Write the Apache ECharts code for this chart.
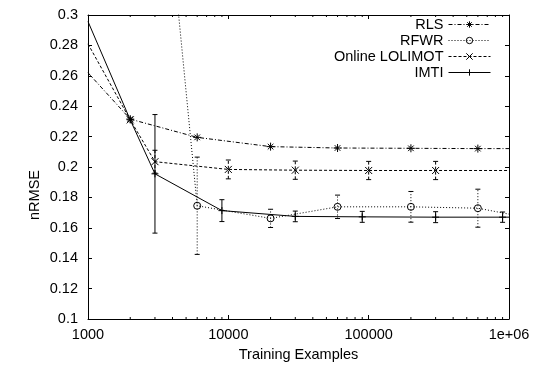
<!DOCTYPE html>
<html><head><meta charset="utf-8">
<script src="https://cdn.jsdelivr.net/npm/echarts@6/dist/echarts.min.js"></script>
<style>html,body{margin:0;padding:0;background:#fff}#c{width:536px;height:367px}</style>
</head><body><div id="c"></div>
<script>
// ---- data ----
const xTickValues = [1000, 10000, 100000, 1000000];
const xTickLabels = ['1000', '10000', '100000', '1e+06'];
const xMinorTicks = [2000, 3000, 4000, 5000, 6000, 7000, 8000, 9000,
                     20000, 30000, 40000, 50000, 60000, 70000, 80000, 90000,
                     200000, 300000, 400000, 500000, 600000, 700000, 800000, 900000];
const yMin = 0.1, yMax = 0.3, yStep = 0.02;

const seriesNames = ['RLS', 'RFWR', 'Online LOLIMOT', 'IMTI'];

const rlsX = [1000, 2000, 6000, 20000, 60000, 200000, 600000, 1000000];
const rlsY = [0.262, 0.2315, 0.2195, 0.2134, 0.2125, 0.2123, 0.2121, 0.2121];

const rfwrX = [3000, 6000, 20000, 60000, 200000, 600000, 1000000];
const rfwrY = [0.46, 0.1745, 0.1662, 0.1738, 0.1738, 0.1729, 0.169];
const rfwrErr = [0, 0.032, 0.006, 0.0077, 0.0101, 0.0125, 0];

const lolX = [1000, 2000, 3000, 10000, 30000, 100000, 300000, 1000000];
const lolY = [0.281, 0.231, 0.2035, 0.1984, 0.1979, 0.1977, 0.1977, 0.1977];
const lolErr = [0, 0, 0.0075, 0.0062, 0.006, 0.006, 0.006, 0];

const imtiX = [1000, 2000, 3000, 9000, 30000, 90000, 300000, 900000, 1000000];
const imtiY = [0.2957, 0.231, 0.1955, 0.1713, 0.1675, 0.1672, 0.167, 0.167, 0.167];
const imtiErr = [0, 0, 0.039, 0.0072, 0.0035, 0.0036, 0.0036, 0.0034, 0];

// ---- build ----
const FONT = 'Liberation Sans';
const xMin = xTickValues[0], xMax = xTickValues[xTickValues.length - 1];

function linePoints(xs, ys) {
  return xs.map((x, i) => {
    const onBorder = x <= xMin || x >= xMax;
    return onBorder ? { value: [x, ys[i]], symbol: 'none' } : { value: [x, ys[i]] };
  });
}
function errPoints(xs, ys, es) {
  const out = [];
  xs.forEach((x, i) => { if (es[i] > 0) out.push([x, ys[i] - es[i], ys[i] + es[i]]); });
  return out;
}
function errRender(dash) {
  return function (params, api) {
    const x = api.value(0), lo = api.value(1), hi = api.value(2);
    const a = api.coord([x, lo]), b = api.coord([x, hi]);
    const w = 2.5;
    const cap = { stroke: '#000', lineWidth: 1 };
    return {
      type: 'group', children: [
        { type: 'line', shape: { x1: a[0], y1: a[1], x2: b[0], y2: b[1] }, style: { stroke: '#000', lineWidth: 1, lineDash: dash } },
        { type: 'line', shape: { x1: a[0] - w, y1: a[1], x2: a[0] + w, y2: a[1] }, style: cap },
        { type: 'line', shape: { x1: b[0] - w, y1: b[1], x2: b[0] + w, y2: b[1] }, style: cap }
      ]
    };
  };
}

const SYM_STAR = 'path://M5,0L5,10M0,5L10,5M1.5,1.5L8.5,8.5M1.5,8.5L8.5,1.5';
const SYM_CROSS = 'path://M0,0L10,10M0,10L10,0';
const SYM_PLUS = 'path://M5,0L5,10M0,5L10,5';

function lineSeries(name, xs, ys, dash, symbol, size) {
  return {
    name: name, type: 'line', data: linePoints(xs, ys),
    symbol: symbol, symbolSize: size, showAllSymbol: true,
    lineStyle: { color: '#000', width: 1, type: dash },
    itemStyle: { color: 'rgba(0,0,0,0)', borderColor: '#000', borderWidth: 1 },
    emphasis: { disabled: true }, animation: false, z: 3
  };
}
function errSeries(xs, ys, es, dash) {
  return {
    type: 'custom', data: errPoints(xs, ys, es), renderItem: errRender(dash),
    encode: { x: 0, y: [1, 2] }, clip: true, silent: true, animation: false, z: 2
  };
}

const chart = echarts.init(document.getElementById('c'), null, { renderer: 'canvas' });
const labelStyle = { fontFamily: FONT, fontSize: 14.5, color: '#000' };

chart.setOption({
  backgroundColor: '#fff',
  animation: false,
  grid: { left: 88, right: 27, top: 15, bottom: 44, containLabel: false },
  xAxis: [{
    type: 'log', logBase: 10, min: xMin, max: xMax, interval: 1,
    name: 'Training Examples', nameLocation: 'middle', nameGap: 28,
    nameTextStyle: labelStyle,
    axisLine: { lineStyle: { color: '#000', width: 1 } },
    axisTick: { inside: true, length: 4, lineStyle: { color: '#000' } },
    axisLabel: Object.assign({ margin: 8, showMinLabel: true, showMaxLabel: true,
      formatter: v => { const i = xTickValues.findIndex(t => Math.abs(t - v) / t < 1e-6); return i >= 0 ? xTickLabels[i] : ''; } }, labelStyle),
    splitLine: { show: false }, minorTick: { show: false }
  }, {
    type: 'log', logBase: 10, min: xMin, max: xMax, interval: 1, position: 'top',
    axisLine: { lineStyle: { color: '#000', width: 1 } },
    axisTick: { inside: true, length: 4, lineStyle: { color: '#000' } },
    axisLabel: { show: false }, splitLine: { show: false }
  }],
  yAxis: [{
    type: 'value', min: yMin, max: yMax, interval: yStep,
    axisLine: { show: true, lineStyle: { color: '#000', width: 1 } },
    axisTick: { show: true, inside: true, length: 4, lineStyle: { color: '#000' } },
    axisLabel: Object.assign({ margin: 10, showMinLabel: true, showMaxLabel: true }, labelStyle),
    splitLine: { show: false }
  }, {
    type: 'value', min: yMin, max: yMax, interval: yStep, position: 'right',
    axisLine: { show: true, lineStyle: { color: '#000', width: 1 } },
    axisTick: { show: true, inside: true, length: 4, lineStyle: { color: '#000' } },
    axisLabel: { show: false }, splitLine: { show: false }
  }],
  legend: {
    data: seriesNames, orient: 'vertical', align: 'right',
    right: 45, top: 17, padding: 0, itemWidth: 42, itemHeight: 8, itemGap: 1,
    textStyle: labelStyle,
    lineStyle: { color: '#000', width: 1 },
    itemStyle: { borderWidth: 1, borderColor: '#000' },
    selectedMode: false
  },
  graphic: [{
    type: 'text', x: 35, y: 195, rotation: Math.PI / 2,
    style: { text: 'nRMSE', align: 'center', verticalAlign: 'middle', font: '14.5px "Liberation Sans"', fill: '#000' }
  }],
  series: [
    lineSeries('RLS', rlsX, rlsY, [4, 2, 1, 2], SYM_STAR, 8),
    lineSeries('RFWR', rfwrX, rfwrY, [1, 2], 'circle', 7),
    errSeries(rfwrX, rfwrY, rfwrErr, [1, 2]),
    lineSeries('Online LOLIMOT', lolX, lolY, [3, 2], SYM_CROSS, 7),
    errSeries(lolX, lolY, lolErr, [3, 2]),
    lineSeries('IMTI', imtiX, imtiY, 'solid', SYM_PLUS, 7),
    errSeries(imtiX, imtiY, imtiErr, null),
    {
      type: 'custom', data: xMinorTicks.map(v => [v, yMin]), silent: true, animation: false, clip: false,
      encode: { x: 0, y: 1 },
      renderItem: function (params, api) {
        const v = api.value(0);
        const b = api.coord([v, yMin]), t = api.coord([v, yMax]);
        const st = { stroke: '#000', lineWidth: 1 };
        return { type: 'group', children: [
          { type: 'line', shape: { x1: b[0], y1: b[1], x2: b[0], y2: b[1] - 2 }, style: st },
          { type: 'line', shape: { x1: t[0], y1: t[1], x2: t[0], y2: t[1] + 2 }, style: st }
        ] };
      }
    }
  ]
});
</script></body></html>
